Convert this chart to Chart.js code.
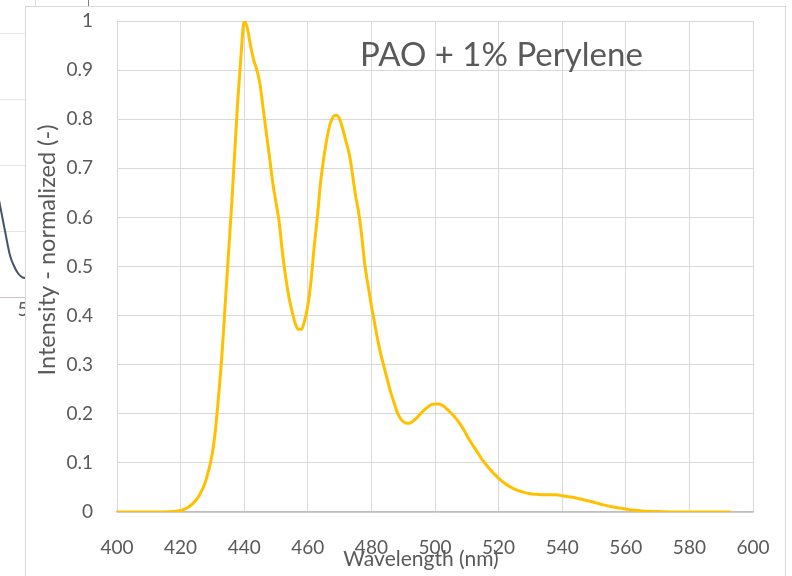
<!DOCTYPE html>
<html>
<head>
<meta charset="utf-8">
<script src="https://cdn.jsdelivr.net/npm/chart.js@4.4.1/dist/chart.umd.min.js"></script>
<style>
  html, body { margin: 0; padding: 0; background: #fff; }
  body { width: 792px; height: 576px; position: relative; overflow: hidden; font-family: Lato, "Open Sans", sans-serif; }
  #back { position: absolute; left: -200px; top: 0; }
  .edge { position: absolute; top: 0; width: 1px; height: 6px; }
  #panel { position: absolute; left: 25px; top: 6px; width: 761px; height: 600px; background: #fff; border: 1px solid #d9d9d9; box-sizing: border-box; }
  #main { position: absolute; left: 0; top: 0; }
  #label { position: absolute; left: 360px; top: 37px; font-size: 33px; line-height: 33px; color: #595959; white-space: nowrap; }
</style>
</head>
<body>
<canvas id="back" width="250" height="330"></canvas>
<div class="edge" style="left:35px;background:#d9d9d9"></div>
<div class="edge" style="left:88px;background:#7f7f7f"></div>
<div id="panel"></div>
<canvas id="main" width="792" height="576"></canvas>
<div id="label">PAO + 1% Perylene</div>

<script>
// emission spectrum, PAO + 1% perylene (normalized)
const wavelengthNm = [
  400, 405, 410, 415, 418, 420, 422, 424, 426, 428,
  430, 431, 432, 433, 434, 435, 436, 437, 438, 439,
  440, 441, 442, 443, 444, 445, 446, 447, 448, 449,
  450, 451, 452, 453, 454, 455, 456, 457, 458, 459,
  460, 461, 462, 463, 464, 465, 466, 467, 468, 469,
  470, 471, 472, 473, 474, 475, 476, 477, 478, 479,
  480, 481, 482, 483, 484, 485, 486, 487, 488, 489,
  490, 491, 492, 493, 494, 495, 496, 497, 498, 499,
  500, 501, 502, 503, 504, 505, 506, 507, 508, 509,
  510, 511, 512, 513, 514, 515, 516, 517, 518, 519,
  520, 522, 524, 526, 528, 530, 532, 534, 536, 538,
  540, 542, 544, 546, 548, 550, 552, 554, 556, 558,
  560, 562, 565, 570, 575, 580, 585, 590, 593
];
const intensity = [
  0, 0, 0, 0, 0.001, 0.003, 0.008, 0.018, 0.035, 0.065,
  0.12, 0.17, 0.24, 0.32, 0.42, 0.52, 0.62, 0.73, 0.84, 0.93,
  1.0, 0.985, 0.95, 0.92, 0.9, 0.87, 0.82, 0.77, 0.72, 0.67,
  0.63, 0.59, 0.53, 0.48, 0.44, 0.41, 0.385, 0.372, 0.372, 0.39,
  0.42, 0.47, 0.54, 0.6, 0.67, 0.72, 0.76, 0.79, 0.805, 0.808,
  0.8, 0.78, 0.755, 0.73, 0.69, 0.645, 0.61, 0.56, 0.5, 0.46,
  0.42, 0.385, 0.35, 0.32, 0.295, 0.27, 0.245, 0.225, 0.205, 0.192,
  0.184, 0.181, 0.181, 0.185, 0.19, 0.197, 0.204, 0.21, 0.215, 0.219,
  0.22, 0.22, 0.218, 0.214, 0.208, 0.202, 0.195, 0.187, 0.178, 0.168,
  0.156, 0.145, 0.135, 0.125, 0.115, 0.105, 0.097, 0.089, 0.082, 0.075,
  0.069, 0.058, 0.05, 0.044, 0.04, 0.037, 0.036, 0.035, 0.035, 0.035,
  0.033, 0.031, 0.029, 0.026, 0.023, 0.02, 0.016, 0.013, 0.01, 0.008,
  0.006, 0.004, 0.002, 0.001, 0, 0, 0, 0, 0
];
const xTicks = [400, 420, 440, 460, 480, 500, 520, 540, 560, 580, 600];
const yTicks = [0, 0.1, 0.2, 0.3, 0.4, 0.5, 0.6, 0.7, 0.8, 0.9, 1];

// neighbouring chart, only its right end peeks out on the left
const backNm = [380, 400, 420, 440, 450, 460, 466, 471, 476, 480, 484, 488, 492, 500, 516];
const backAbs = [3.7, 3.6, 3.3, 2.75, 2.35, 1.85, 1.39, 1.0, 0.63, 0.47, 0.36, 0.3, 0.285, 0.28, 0.28];
const backTicks = [300, 400, 500];

const grey = '#595959';
const tickFont = { family: 'Lato', size: 19 };

// axis titles sit where the spreadsheet put them, a little off the plot centre
const axisTitles = {
  id: 'axisTitles',
  afterDraw(chart) {
    const { ctx, chartArea } = chart;
    ctx.save();
    ctx.fillStyle = grey;
    ctx.textAlign = 'center';
    ctx.textBaseline = 'middle';
    ctx.font = '21px Lato';
    ctx.fillText('Wavelength (nm)', chartArea.left + 304, chartArea.bottom + 47);
    ctx.translate(47, chartArea.top + 229);
    ctx.rotate(-Math.PI / 2);
    ctx.font = '23.5px Lato';
    ctx.fillText('Intensity - normalized (-)', 0, 0);
    ctx.restore();
  }
};

// tick padding also widens the layout margins; keep the plot where it belongs
const noEdgePadding = (s) => {
  s.paddingTop = 0;
  s.paddingBottom = 0;
  s.paddingLeft = 0;
  s.paddingRight = 0;
};

new Chart(document.getElementById('back'), {
  type: 'line',
  data: {
    datasets: [{
      data: backNm.map((x, i) => ({ x, y: backAbs[i] })),
      borderColor: '#44546a',
      borderWidth: 2,
      pointRadius: 0,
      cubicInterpolationMode: 'monotone'
    }]
  },
  options: {
    responsive: false,
    animation: false,
    devicePixelRatio: 1,
    layout: { padding: { top: 33, left: 0, right: 0, bottom: 0 } },
    plugins: { legend: { display: false }, tooltip: { enabled: false } },
    scales: {
      x: {
        type: 'linear', min: 266, max: 516,
        grid: { display: false },
        border: { color: '#d4c2c2' },
        afterBuildTicks: (s) => { s.ticks = backTicks.map((v) => ({ value: v })) },
        afterFit: (s) => { s.height = 33 },
        ticks: { color: grey, font: tickFont, padding: -7, maxRotation: 0 }
      },
      y: {
        type: 'linear', min: 0, max: 4,
        ticks: { display: false, stepSize: 1 },
        grid: { color: '#e6e6e6', drawTicks: false },
        border: { display: false },
        afterFit: (s) => { s.width = 0 }
      }
    }
  }
});

new Chart(document.getElementById('main'), {
  type: 'line',
  data: {
    datasets: [{
      data: wavelengthNm.map((x, i) => ({ x, y: intensity[i] })),
      borderColor: '#ffc000',
      borderWidth: 3,
      pointRadius: 0,
      cubicInterpolationMode: 'monotone'
    }]
  },
  options: {
    responsive: false,
    animation: false,
    devicePixelRatio: 1,
    layout: { padding: { top: 21, left: 0, right: 39, bottom: 0 } },
    plugins: { legend: { display: false }, tooltip: { enabled: false } },
    scales: {
      x: {
        type: 'linear', min: 400, max: 600,
        afterBuildTicks: (s) => { s.ticks = xTicks.map((v) => ({ value: v })) },
        afterFit: (s) => { s.height = 64; noEdgePadding(s) },
        grid: { color: '#d9d9d9', drawTicks: false },
        border: { color: '#bfbfbf', width: 1.5 },
        ticks: { color: grey, font: tickFont, padding: 24, maxRotation: 0 }
      },
      y: {
        type: 'linear', min: 0, max: 1,
        afterBuildTicks: (s) => { s.ticks = yTicks.map((v) => ({ value: v })) },
        afterFit: (s) => { s.width = 117; noEdgePadding(s) },
        grid: { color: '#d9d9d9', drawTicks: false },
        border: { color: '#d9d9d9' },
        ticks: { color: grey, font: tickFont, padding: 24, callback: (v) => String(v) }
      }
    }
  },
  plugins: [axisTitles]
});
</script>
</body>
</html>
